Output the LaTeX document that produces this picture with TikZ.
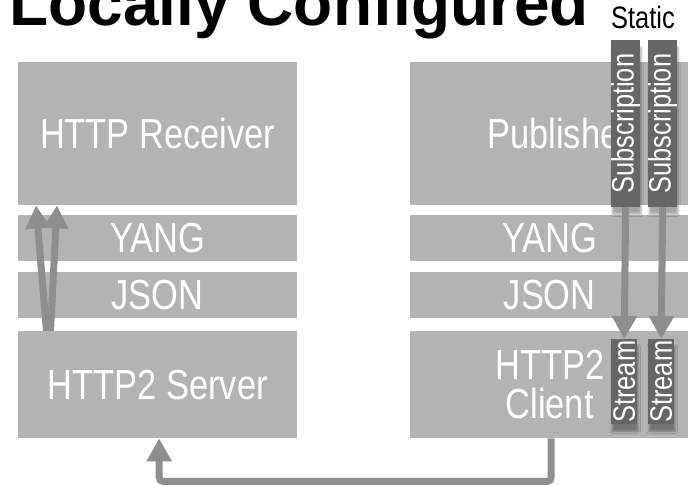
\documentclass[tikz,border=0pt]{standalone}
\usepackage{fontspec}
\usepackage{graphicx}
\usepackage{tikz}
\usetikzlibrary{positioning,arrows.meta,shadows.blur}
\setmainfont{Liberation Sans}
\newfontfamily\narrowsf[FakeStretch=0.82]{Liberation Sans}
\definecolor{boxgray}{RGB}{179,179,179}
\definecolor{bargray}{RGB}{102,102,102}
\definecolor{arrgray}{RGB}{142,142,142}
\newcommand{\upright}[1]{\rotatebox{90}{#1}}

\begin{document}
\begin{tikzpicture}[x=1pt,y=-1pt]
		\tikzstyle{every node}+=[inner sep=0pt]
		\tikzstyle{stackbox}=[fill=boxgray, text=white, minimum width=279pt, anchor=north west, align=center, font=\narrowsf\fontsize{42}{39}\selectfont]
		\tikzstyle{subbar}=[fill=bargray, text=white, minimum width=26pt, anchor=north west, font=\narrowsf\fontsize{31}{31}\selectfont, blur shadow={shadow xshift=1pt, shadow yshift=-7pt, shadow opacity=35}]
		\tikzstyle{flowarrow}=[draw=arrgray, line width=7pt, -{Triangle[width=24pt,length=23pt]}]
		\useasboundingbox (0,0) rectangle (688,486);
		\clip (0,0) rectangle (688,486);
		\node [anchor=base west, font=\bfseries\fontsize{64}{64}\selectfont] (title) at (9.3,26) {Locally Configured};
		\node [anchor=base, font=\narrowsf\fontsize{31}{31}\selectfont] (static) at (643,29) {Static};
		\node [stackbox, minimum height=143pt] (rcv) at (18,62) {HTTP Receiver};
		\node [stackbox, minimum height=46pt] (yangL) at (18,215) {YANG};
		\node [stackbox, minimum height=46pt] (jsonL) at (18,272) {JSON};
		\node [stackbox, minimum height=107pt] (srv) at (18,331) {HTTP2 Server};
		\node [stackbox, minimum height=143pt] (pub) at (410,62) {};
		\node [text=white, font=\narrowsf\fontsize{42}{39}\selectfont, xshift=9.5pt] (publbl) at (pub.center) {Publisher};
		\node [stackbox, minimum height=46pt] (yangR) at (410,215) {YANG};
		\node [stackbox, minimum height=46pt] (jsonR) at (410,272) {JSON};
		\node [stackbox, minimum height=107pt] (cli) at (410,331) {HTTP2\\Client};
		\draw [flowarrow] ([xshift=28.5pt]srv.north west) -- ([xshift=18pt]rcv.south west);
		\draw [flowarrow] ([xshift=32.5pt]srv.north west) -- ([xshift=39pt]rcv.south west);
		\draw [flowarrow, rounded corners=4pt] ([xshift=1.5pt]cli.south) -- ++(0,43) -| ([xshift=1.5pt]srv.south);
		\node [subbar, minimum height=167pt] (sub1) at (611,40) {\upright{Subscription}};
		\node [subbar, minimum height=167pt] (sub2) at (648,40) {\upright{Subscription}};
		\node [subbar, minimum height=85pt] (str1) at (611,339) {\upright{Stream}};
		\node [subbar, minimum height=85pt] (str2) at (648,339) {\upright{Stream}};
		\draw [flowarrow] (sub1.south) -- (str1.north);
		\draw [flowarrow] (sub2.south) -- (str2.north);
\end{tikzpicture}
\end{document}
